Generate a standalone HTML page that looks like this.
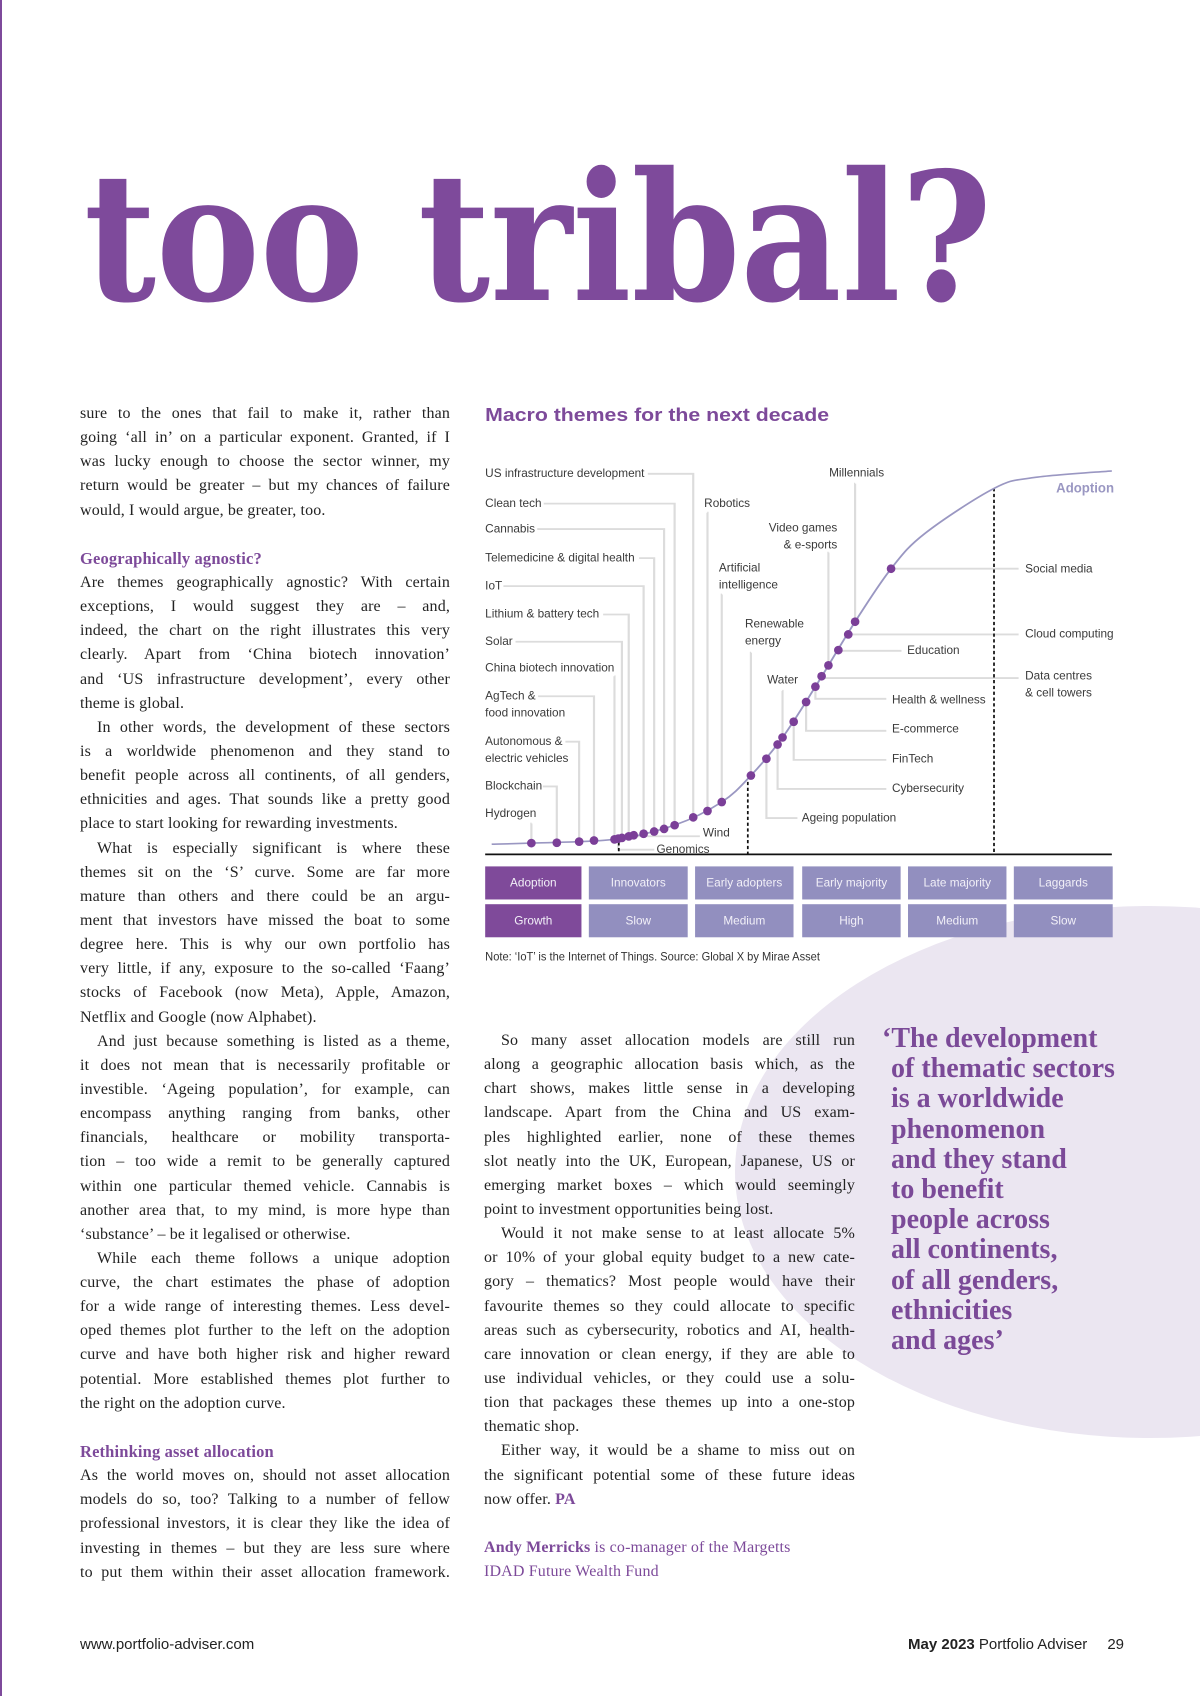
<!DOCTYPE html>
<html><head><meta charset="utf-8">
<style>
html,body{margin:0;padding:0;}
body{width:1200px;height:1696px;position:relative;overflow:hidden;background:#fff;font-family:"Liberation Serif",serif;color:#222;}
.abs{position:absolute;}
.col{position:absolute;font-size:16px;line-height:24.15px;letter-spacing:0.15px;}
.col div{height:24.15px;white-space:nowrap;}
.j{text-align:justify;text-align-last:justify;white-space:normal!important;}
.in{text-indent:17px;}
.h{font-weight:bold;color:#7d4a9a;font-size:16.5px;}
.quote{position:absolute;left:882px;top:1024px;font-family:"Liberation Serif",serif;font-weight:bold;color:#7b4a98;font-size:28px;line-height:30.2px;}
.quote div{white-space:nowrap;padding-left:9px;}
.quote div:first-child{padding-left:0;}
.foot{position:absolute;top:1636px;font-family:"Liberation Sans",sans-serif;font-size:15px;color:#222;}
</style></head>
<body>
<div class="abs" style="left:0;top:0;width:2px;height:1696px;background:#7e4a9b"></div>
<svg class="abs" style="left:0;top:0" width="1200" height="1696"><ellipse cx="1150" cy="1172" rx="415" ry="266" fill="#ebe6f1"/></svg>

<svg class="abs" style="left:0;top:120px" width="1200" height="230">
<text x="84" y="180" textLength="908" lengthAdjust="spacingAndGlyphs" font-family="'DejaVu Serif',serif" font-weight="bold" font-size="178" fill="#7e4a9b">too tribal?</text>
</svg>

<div class="col" style="left:80px;top:402px;width:370px;">
<div class="j">sure to the ones that fail to make it, rather than</div>
<div class="j">going ‘all in’ on a particular exponent. Granted, if I</div>
<div class="j">was lucky enough to choose the sector winner, my</div>
<div class="j">return would be greater – but my chances of failure</div>
<div>would, I would argue, be greater, too.</div>
<div></div>
<div class="h">Geographically agnostic?</div>
<div class="j">Are themes geographically agnostic? With certain</div>
<div class="j">exceptions, I would suggest they are – and,</div>
<div class="j">indeed, the chart on the right illustrates this very</div>
<div class="j">clearly. Apart from ‘China biotech innovation’</div>
<div class="j">and ‘US infrastructure development’, every other</div>
<div>theme is global.</div>
<div class="j in">In other words, the development of these sectors</div>
<div class="j">is a worldwide phenomenon and they stand to</div>
<div class="j">benefit people across all continents, of all genders,</div>
<div class="j">ethnicities and ages. That sounds like a pretty good</div>
<div>place to start looking for rewarding investments.</div>
<div class="j in">What is especially significant is where these</div>
<div class="j">themes sit on the ‘S’ curve. Some are far more</div>
<div class="j">mature than others and there could be an argu-</div>
<div class="j">ment that investors have missed the boat to some</div>
<div class="j">degree here. This is why our own portfolio has</div>
<div class="j">very little, if any, exposure to the so-called ‘Faang’</div>
<div class="j">stocks of Facebook (now Meta), Apple, Amazon,</div>
<div>Netflix and Google (now Alphabet).</div>
<div class="j in">And just because something is listed as a theme,</div>
<div class="j">it does not mean that is necessarily profitable or</div>
<div class="j">investible. ‘Ageing population’, for example, can</div>
<div class="j">encompass anything ranging from banks, other</div>
<div class="j">financials, healthcare or mobility transporta-</div>
<div class="j">tion – too wide a remit to be generally captured</div>
<div class="j">within one particular themed vehicle. Cannabis is</div>
<div class="j">another area that, to my mind, is more hype than</div>
<div>‘substance’ – be it legalised or otherwise.</div>
<div class="j in">While each theme follows a unique adoption</div>
<div class="j">curve, the chart estimates the phase of adoption</div>
<div class="j">for a wide range of interesting themes. Less devel-</div>
<div class="j">oped themes plot further to the left on the adoption</div>
<div class="j">curve and have both higher risk and higher reward</div>
<div class="j">potential. More established themes plot further to</div>
<div>the right on the adoption curve.</div>
<div></div>
<div class="h">Rethinking asset allocation</div>
<div class="j">As the world moves on, should not asset allocation</div>
<div class="j">models do so, too? Talking to a number of fellow</div>
<div class="j">professional investors, it is clear they like the idea of</div>
<div class="j">investing in themes – but they are less sure where</div>
<div class="j">to put them within their asset allocation framework.</div>
</div>

<div class="col" style="left:484px;top:1029px;width:371px;">
<div class="j in">So many asset allocation models are still run</div>
<div class="j">along a geographic allocation basis which, as the</div>
<div class="j">chart shows, makes little sense in a developing</div>
<div class="j">landscape. Apart from the China and US exam-</div>
<div class="j">ples highlighted earlier, none of these themes</div>
<div class="j">slot neatly into the UK, European, Japanese, US or</div>
<div class="j">emerging market boxes – which would seemingly</div>
<div>point to investment opportunities being lost.</div>
<div class="j in">Would it not make sense to at least allocate 5%</div>
<div class="j">or 10% of your global equity budget to a new cate-</div>
<div class="j">gory – thematics? Most people would have their</div>
<div class="j">favourite themes so they could allocate to specific</div>
<div class="j">areas such as cybersecurity, robotics and AI, health-</div>
<div class="j">care innovation or clean energy, if they are able to</div>
<div class="j">use individual vehicles, or they could use a solu-</div>
<div class="j">tion that packages these themes up into a one-stop</div>
<div>thematic shop.</div>
<div class="j in">Either way, it would be a shame to miss out on</div>
<div class="j">the significant potential some of these future ideas</div>
<div>now offer. <b style="color:#7d4a9a">PA</b></div>
<div></div>
<div style="color:#7d4a9a"><b>Andy Merricks</b> is co-manager of the Margetts</div>
<div style="color:#7d4a9a">IDAD Future Wealth Fund</div>
</div>

<div class="quote">
<div>‘The development</div><div>of thematic sectors</div><div>is a worldwide</div><div>phenomenon</div><div>and they stand</div><div>to benefit</div><div>people across</div><div>all continents,</div><div>of all genders,</div><div>ethnicities</div><div>and ages’</div>
</div>

<div class="foot" style="left:80px;">www.portfolio-adviser.com</div>
<div class="foot" style="right:76px;"><b>May 2023</b> Portfolio Adviser<span style="display:inline-block;width:20px"></span>29</div>

<svg id="chart" class="abs" style="left:470px;top:400px" width="680" height="570" viewBox="0 0 1568 1568" preserveAspectRatio="none"></svg>

<script>
// ---- data ----
const themes = ["Hydrogen","Blockchain","Autonomous & electric vehicles","AgTech & food innovation","China biotech innovation","Genomics","Solar","Lithium & battery tech","Wind","IoT","Telemedicine & digital health","Cannabis","Clean tech","US infrastructure development","Robotics","Artificial intelligence","Renewable energy","Ageing population","Cybersecurity","Water","FinTech","E-commerce","Health & wellness","Data centres & cell towers","Video games & e-sports","Education","Cloud computing","Millennials","Social media"];
const adoptionX = [6.4,10.5,14.1,16.5,19.8,20.4,21.0,22.1,22.9,24.5,26.2,27.8,29.5,32.5,34.8,37.1,41.8,44.3,46.1,46.9,48.7,50.7,52.2,53.2,54.3,55.9,57.5,58.6,64.4];
const adoptionY = [0.3,0.4,0.7,1.0,1.3,1.5,1.7,2.1,2.4,2.8,3.4,4.1,5.1,7.2,8.9,11.3,18.4,22.9,26.7,28.6,32.8,38.1,42.2,45.0,47.9,52.0,56.2,59.6,73.8];
const curveX = [0,6.4,19.8,29.5,37.1,41.8,46.9,52.2,58.6,64.4,69.9,81.0,87.4,100];
const curveY = [0,0.3,1.3,5.1,11.3,18.4,28.6,42.2,59.6,73.8,83.3,95.3,98.2,100];
const phaseBounds = [20.5,41.3,81.0];
const phaseTops = [2.1,16.7,95.4];
const phases = ["Innovators","Early adopters","Early majority","Late majority","Laggards"];
const growth = ["Slow","Medium","High","Medium","Slow"];

// ---- label layout (label lines, text x/y, anchor, leader start) ----
const layout = [
 [["Hydrogen"],35,1138,"start",142,1165],
 [["Blockchain"],35,1063,"start",168,1063],
 [["Autonomous &","electric vehicles"],35,940,"start",220,940],
 [["AgTech &","food innovation"],35,815,"start",157,815],
 [["China biotech innovation"],35,738,"start",333,760],
 [["Genomics"],430,1237,"start",425,1237],
 [["Solar"],35,665,"start",105,665],
 [["Lithium & battery tech"],35,590,"start",307,590],
 [["Wind"],537,1192,"start",530,1200],
 [["IoT"],35,512,"start",77,512],
 [["Telemedicine & digital health"],35,435,"start",390,435],
 [["Cannabis"],35,355,"start",155,355],
 [["Clean tech"],35,285,"start",170,285],
 [["US infrastructure development"],35,203,"start",410,203],
 [["Robotics"],540,285,"start",547,310],
 [["Artificial","intelligence"],574,463,"start",581,535],
 [["Renewable","energy"],634,617,"start",648,695],
 [["Ageing population"],765,1150,"start",755,1150],
 [["Cybersecurity"],973,1070,"start",960,1070],
 [["Water"],685,771,"start",720,800],
 [["FinTech"],973,988,"start",960,990],
 [["E-commerce"],973,906,"start",960,910],
 [["Health & wellness"],973,826,"start",960,822],
 [["Data centres","& cell towers"],1280,760,"start",1265,765],
 [["Video games","& e-sports"],847,353,"end",827,420],
 [["Education"],1008,690,"start",995,690],
 [["Cloud computing"],1280,645,"start",1265,645],
 [["Millennials"],828,202,"start",888,230],
 [["Social media"],1280,465,"start",1265,464]
];

const NS="http://www.w3.org/2000/svg";
const svg=document.getElementById('chart');
const sx=v=>50+v*14.30;
const sy=v=>1222-v*10.27;
const FONT="'Liberation Sans Narrow','Liberation Sans',sans-serif";
function mk(tag,attrs,parent){const e=document.createElementNS(NS,tag);for(const k in attrs)e.setAttribute(k,attrs[k]);(parent||svg).appendChild(e);return e;}
function ntext(str,x,y,size,anchor,fill,weight){
  const t=mk('text',{x:0,y:0,transform:`translate(${x},${y}) scale(0.8,1)`,'dominant-baseline':'middle','text-anchor':anchor,'font-family':FONT,'font-size':size,fill:fill,'font-weight':weight||'normal'});
  t.textContent=str;return t;
}

const title=mk('text',{x:35,y:58,'font-family':"'Liberation Sans',sans-serif",'font-weight':'bold','font-size':52,fill:'#7d4a9a',textLength:793,lengthAdjust:'spacingAndGlyphs'});
title.textContent="Macro themes for the next decade";



// leaders
themes.forEach((t,i)=>{
  const L=layout[i];const dx=sx(adoptionX[i]),dy=sy(adoptionY[i]);
  const p=mk('path',{d:`M${L[4]},${L[5]} H${dx} V${dy}`,fill:'none',stroke:'#dcdcdc','stroke-width':5});
  
  
});
// labels
themes.forEach((t,i)=>{
  const L=layout[i];
  L[0].forEach((line,k)=>{
    const tx=ntext(line,L[1],L[2]+k*47,34,L[3],'#3a3a3a');
    
    
  });
});
// phase dashed lines
phaseBounds.forEach((b,i)=>{
  const l=mk('line',{x1:sx(b),x2:sx(b),y1:sy(phaseTops[i]),y2:1250,stroke:'#111','stroke-width':4,'stroke-dasharray':'9 7'});
  
  
});
// curve (catmull-rom)
let pts=curveX.map((x,i)=>[sx(x),sy(curveY[i])]);
let d=`M${pts[0][0]},${pts[0][1]}`;
for(let i=0;i<pts.length-1;i++){
  const p0=pts[i-1]||pts[i],p1=pts[i],p2=pts[i+1],p3=pts[i+2]||p2;
  const c1=[p1[0]+(p2[0]-p0[0])/6,p1[1]+(p2[1]-p0[1])/6],c2=[p2[0]-(p3[0]-p1[0])/6,p2[1]-(p3[1]-p1[1])/6];
  d+=` C${c1[0]},${c1[1]} ${c2[0]},${c2[1]} ${p2[0]},${p2[1]}`;
}
const curve=mk('path',{d:d,fill:'none',stroke:'#9a97c2','stroke-width':4.5});


// dots
themes.forEach((t,i)=>{
  const c=mk('ellipse',{cx:sx(adoptionX[i]),cy:sy(adoptionY[i]),rx:10,ry:12,fill:'#7b3f98'});
  
  
});
const at=ntext("Adoption",1485,245,38,'end','#9a97c2','bold');


// axis
const ax=mk('line',{x1:35,x2:1480,y1:1250,y2:1250,stroke:'#111','stroke-width':5});


// boxes
const colX=[35,274,519,766,1010,1254],colW=[222,228,227,227,227,228];
const row1=["Adoption"].concat(phases),row2=["Growth"].concat(growth);
[row1,row2].forEach((row,r)=>{
  row.forEach((txt,i)=>{
    const y=r?1387:1283;
    const b=mk('rect',{x:colX[i],y:y,width:colW[i],height:91,fill:i?'#928fbf':'#7f4a9a'});
    
    
    const t=ntext(txt,colX[i]+colW[i]/2,y+47,34,'middle','#f2f0f8');
    
    
  });
});
const note=ntext("Note: ‘IoT’ is the Internet of Things. Source: Global X by Mirae Asset",35,1533,32,'start','#333');


</script>
</body></html>
